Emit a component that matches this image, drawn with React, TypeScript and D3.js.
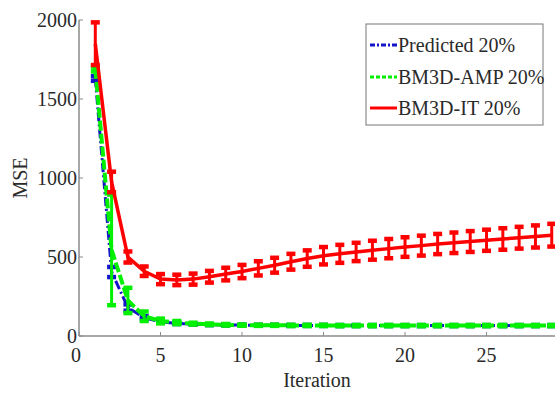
import { useEffect, useRef } from "react";
import * as d3 from "d3";

const iterations = [
  1, 2, 3, 4, 5, 6, 7, 8, 9, 10, 11, 12, 13, 14, 15, 16, 17, 18, 19, 20, 21,
  22, 23, 24, 25, 26, 27, 28, 29,
];

const predictedMean = [
  1630, 405, 180, 115, 90, 80, 75, 72, 70, 69, 68, 68, 67, 67, 67, 66, 66, 66,
  66, 66, 66, 66, 66, 66, 66, 66, 66, 66, 66,
];
const predictedErr = [
  15, 32, 20, 10, 6, 4, 3, 3, 3, 3, 3, 3, 3, 3, 3, 3, 3, 3, 3, 3, 3, 3, 3, 3, 3,
  3, 3, 3, 3,
];

const ampMean = [
  1690, 545, 225, 125, 95, 85, 78, 74, 71, 69, 68, 68, 67, 67, 67, 66, 66, 66,
  66, 66, 66, 66, 66, 66, 66, 66, 66, 66, 66,
];
const ampErr = [
  15, 350, 80, 30, 15, 10, 6, 5, 5, 4, 4, 4, 4, 4, 4, 4, 4, 4, 4, 4, 4, 4, 4, 4,
  4, 4, 4, 4, 4,
];

const itMean = [
  1850, 975, 500, 410, 360, 355, 360, 375, 392, 408, 428, 448, 470, 490, 508,
  520, 532, 543, 553, 563, 572, 582, 590, 598, 606, 614, 622, 630, 638,
];
const itErr = [
  135, 65, 35, 30, 32, 33, 35, 37, 40, 42, 45, 47, 50, 52, 55, 57, 58, 60, 61,
  62, 63, 64, 65, 66, 67, 68, 69, 70, 72,
];

const xTicks = [0, 5, 10, 15, 20, 25];
const yTicks = [0, 500, 1000, 1500, 2000];

const legendLabels = ["Predicted 20%", "BM3D-AMP 20%", "BM3D-IT 20%"];

interface Series {
  mean: number[];
  err: number[];
  color: string;
  dash: string | null;
  width: number;
}

const series: Series[] = [
  { mean: predictedMean, err: predictedErr, color: "#1414c8", dash: "9,3,2,3", width: 3 },
  { mean: ampMean, err: ampErr, color: "#00f000", dash: "10,3", width: 4 },
  { mean: itMean, err: itErr, color: "#ff0000", dash: null, width: 3.5 },
];

const W = 555;
const H = 394;
const FONT = "'Liberation Serif', 'Times New Roman', serif";

export default function App() {
  const svgRef = useRef<SVGSVGElement>(null);

  useEffect(() => {
    if (!svgRef.current) return;
    const svg = d3.select(svgRef.current);
    svg.selectAll("*").remove();

    const x = d3.scaleLinear().domain([0, 29.2]).range([79, 555]);
    const y = d3.scaleLinear().domain([0, 2000]).range([336, 20]);

    svg.append("rect").attr("width", W).attr("height", H).attr("fill", "#fff");

    // axes
    const axisColor = "#8a8a8a";
    svg
      .append("line")
      .attr("x1", x(0))
      .attr("x2", W)
      .attr("y1", y(0))
      .attr("y2", y(0))
      .attr("stroke", axisColor)
      .attr("stroke-width", 1.5);
    svg
      .append("line")
      .attr("x1", x(0))
      .attr("x2", x(0))
      .attr("y1", y(0))
      .attr("y2", y(2000))
      .attr("stroke", axisColor)
      .attr("stroke-width", 1.5);

    // x ticks
    const xt = svg.append("g").selectAll("g").data(xTicks).join("g");
    xt.append("line")
      .attr("x1", (d) => x(d))
      .attr("x2", (d) => x(d))
      .attr("y1", y(0))
      .attr("y2", y(0) - 4)
      .attr("stroke", axisColor);
    xt.append("text")
      .attr("x", (d) => x(d) - (d === 0 ? 3 : 0))
      .attr("y", 362)
      .attr("text-anchor", "middle")
      .attr("font-family", FONT)
      .attr("font-size", 20)
      .attr("fill", "#2a2a2a")
      .text((d) => d);

    // y ticks
    const yt = svg.append("g").selectAll("g").data(yTicks).join("g");
    yt.append("line")
      .attr("x1", x(0))
      .attr("x2", x(0) + 4)
      .attr("y1", (d) => y(d))
      .attr("y2", (d) => y(d))
      .attr("stroke", axisColor);
    yt.append("text")
      .attr("x", 77)
      .attr("y", (d) => y(d) + 6.5)
      .attr("text-anchor", "end")
      .attr("font-family", FONT)
      .attr("font-size", 20)
      .attr("fill", "#2a2a2a")
      .text((d) => d);

    // axis titles
    svg
      .append("text")
      .attr("x", 317)
      .attr("y", 387)
      .attr("text-anchor", "middle")
      .attr("font-family", FONT)
      .attr("font-size", 20)
      .attr("fill", "#2a2a2a")
      .text("Iteration");
    svg
      .append("text")
      .attr("transform", `translate(27,178) rotate(-90)`)
      .attr("text-anchor", "middle")
      .attr("font-family", FONT)
      .attr("font-size", 20)
      .attr("fill", "#2a2a2a")
      .text("MSE");

    // series
    const line = d3
      .line<number>()
      .x((_, i) => x(iterations[i]))
      .y((d) => y(d));

    series.forEach((s) => {
      const g = svg.append("g");
      const idx = iterations.map((_, i) => i);
      // error bars
      g.selectAll("line.v")
        .data(idx)
        .join("line")
        .attr("x1", (i) => x(iterations[i]))
        .attr("x2", (i) => x(iterations[i]))
        .attr("y1", (i) => y(s.mean[i] + s.err[i]))
        .attr("y2", (i) => y(s.mean[i] - s.err[i]))
        .attr("stroke", s.color)
        .attr("stroke-width", 3);
      [1, -1].forEach((sign) => {
        g.selectAll(`line.c${sign}`)
          .data(idx)
          .join("line")
          .attr("x1", (i) => x(iterations[i]) - 4.5)
          .attr("x2", (i) => x(iterations[i]) + 4.5)
          .attr("y1", (i) => y(s.mean[i] + sign * s.err[i]))
          .attr("y2", (i) => y(s.mean[i] + sign * s.err[i]))
          .attr("stroke", s.color)
          .attr("stroke-width", 4.5);
      });
      g.append("path")
        .attr("d", line(s.mean))
        .attr("fill", "none")
        .attr("stroke", s.color)
        .attr("stroke-width", s.width)
        .attr("stroke-dasharray", s.dash);
    });

    // legend
    const lg = svg.append("g");
    lg.append("rect")
      .attr("x", 366)
      .attr("y", 24)
      .attr("width", 177)
      .attr("height", 101)
      .attr("fill", "#fff")
      .attr("stroke", "#777")
      .attr("stroke-width", 1);
    const rows = lg
      .selectAll("g")
      .data(legendLabels)
      .join("g")
      .attr("transform", (_, i) => `translate(0,${[45, 77, 108][i]})`);
    rows
      .append("line")
      .attr("x1", 370)
      .attr("x2", 397)
      .attr("stroke", (_, i) => series[i].color)
      .attr("stroke-width", 3)
      .attr("stroke-dasharray", (_, i) => (i === 0 ? "5,2,2,2" : i === 1 ? "4,2" : null));
    rows
      .append("text")
      .attr("x", 398)
      .attr("y", 6.5)
      .attr("font-family", FONT)
      .attr("font-size", 20)
      .attr("fill", "#2a2a2a")
      .text((d) => d);
  }, []);

  return (
    <svg
      ref={svgRef}
      width={W}
      height={H}
      style={{ position: "absolute", left: 0, top: 0 }}
    />
  );
}
